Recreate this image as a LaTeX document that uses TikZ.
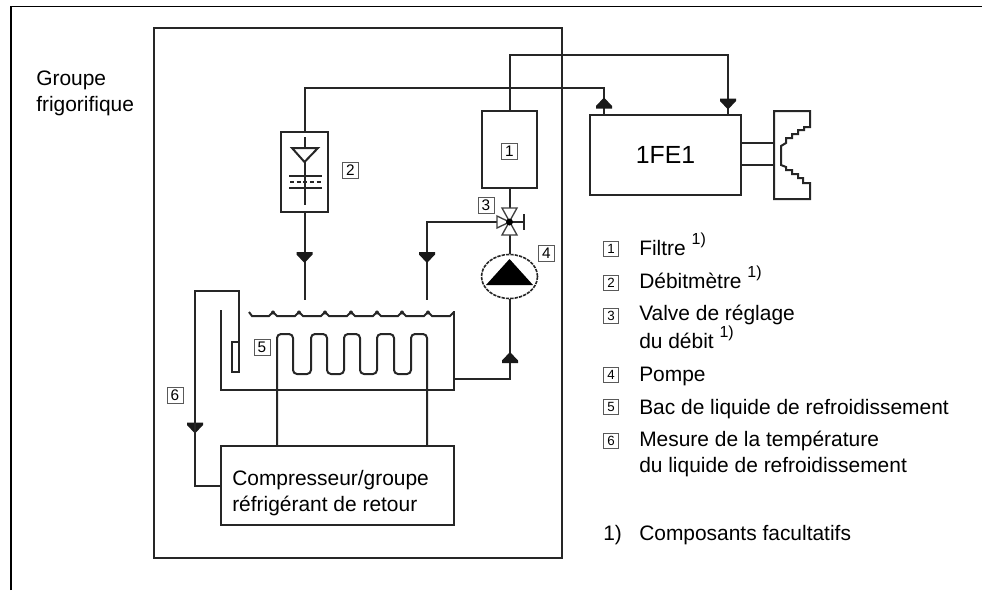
\documentclass[tikz,border=0pt]{standalone}
\usepackage{fontspec}
\setmainfont{Liberation Sans}
\usetikzlibrary{positioning,shapes.geometric}
\tikzset{
    pipe/.style={line width=1.5pt,black!85},
    unitbox/.style 2 args={draw,line width=1.5pt,black!85,inner sep=0pt,outer sep=0pt,minimum width=#1*0.75pt,minimum height=#2*0.75pt},
    tagbox/.style={draw,black!65,line width=0.6pt,inner sep=0pt,minimum width=12pt,minimum height=12pt,text=black,font=\fontsize{11.5}{12}\selectfont},
    keybox/.style={draw,black!65,line width=0.6pt,inner sep=0pt,minimum width=11.5pt,minimum height=11.5pt,text=black,font=\fontsize{10}{10}\selectfont},
    plaintext/.style={anchor=base west,inner sep=0pt,align=left,font=\fontsize{15.7}{19.5}\selectfont},
    pics/tipdown/.style={code={\fill[black!90] (-8,-5.5) -- (8,-5.5) -- (8,-3) -- (0,5.5) -- (-8,-3) -- cycle;}},
    pics/tipup/.style={code={\fill[black!90] (-8,5.5) -- (8,5.5) -- (8,3) -- (0,-5.5) -- (-8,3) -- cycle;}},
}
\newcommand{\optmark}{\raisebox{0.5em}{\fontsize{12}{12}\selectfont 1)}}
\begin{document}
\begin{tikzpicture}[x=0.75pt,y=-0.75pt]
    \useasboundingbox (0,0) rectangle (982,590);
    % page frame
    \coordinate (framea) at (11,590);
    \coordinate (frameb) at (11,6.5);
    \coordinate (framec) at (982,6.5);
    \draw[black,line width=0.8pt] (framea) -- (frameb) -- (framec);
    \node[unitbox={408}{530}] (unit) at (358,293) {};
    \node[plaintext] (unitname) at (36,111) {Groupe\\frigorifique};

    % components
    \node[unitbox={47}{80}] (meter) at (304.5,172) {};
    \node[unitbox={55}{77}] (filter) at (509.5,149.5) {};
    \node[unitbox={151}{80}] (fe) at (665.5,155) {};
    \node[font=\fontsize{18.6}{20}\selectfont,inner sep=0pt] (fename) at (fe) {1FE1};
    \node[unitbox={233}{79}] (comp) at (337.5,485.5) {};
    \node[plaintext] (compname) at (232,511) {Compresseur/groupe\\réfrigérant de retour};
    \coordinate (valve) at (509.5,222);
    \node[draw,ellipse,dash pattern=on 2.5pt off 0.8pt,line width=1.2pt,black!85,inner sep=0pt,minimum width=42pt,minimum height=33pt] (pump) at (509.5,276.5) {};
    \fill[black] (509.5,259) -- (533,285) -- (486,285) -- cycle;

    % pipes
    \coordinate (fesupply) at (604,115);
    \coordinate (fereturn) at (728,115);
    \coordinate (meterend) at (304.5,300);
    \coordinate (valveend) at (427,300);
    \draw[pipe] (meter.north) |- (604,87.5) -- (fesupply);
    \draw[pipe] (filter.north) |- (728,55) -- (fereturn);
    \draw[pipe] (meter.south) -- (meterend);
    \draw[pipe] (filter.south) -- (valve) -- (pump.north);
    \draw[pipe] (valve) -| (valveend);
    \draw[pipe] (pump.south) |- (454,378.5);
    \pic at (304.5,257.5) {tipdown};
    \pic at (427,257.5) {tipdown};
    \pic at (604,103) {tipup};
    \pic at (728,104) {tipdown};
    \pic at (510,357.5) {tipup};
    \pic at (195,428) {tipdown};

    % flowmeter symbol
    \draw[pipe] (304.5,137) -- (304.5,205);
    \draw[pipe,fill=white] (292,148) -- (318,148) -- (304.5,162) -- cycle;
    \draw[pipe] (289,176) -- (322,176);
    \draw[pipe] (289,188) -- (322,188);
    \draw[pipe,dash pattern=on 3pt off 2pt] (290,182) -- (322,182);

    % valve
    \draw[black!75,line width=1pt,fill=white] (502,208) -- (517,208) -- (502,235) -- (517,235) -- cycle;
    \draw[black!75,line width=1pt,fill=white] (497,216) -- (509.5,222) -- (497,228) -- cycle;
    \draw[pipe] (valve) -- (524,222);
    \draw[pipe] (524,214) -- (524,230);
    \fill[black] (valve) circle (3.5);

    % tank, sensor and coil
    \draw[pipe] (221,310) -- (221,390) -- (454,390) -- (454,311);
    \draw[pipe] (249,312) -- (252,316) \foreach \dotx in {273,299,325,351,377,402,428} {
        -- (\dotx-4,316) -- (\dotx,312) -- (\dotx+4,316)} -- (450,316) -- (454,312);
    \foreach \dotx in {273,299,325,351,377,402,428} \fill[black!85] (\dotx,312.5) circle (2);
    \node[unitbox={7}{30}] (sensor) at (235.5,357) {};
    \draw[pipe] (comp.west) -| (195,291) -| (sensor.north -| 239,291);
    \draw[pipe,rounded corners=3pt] (277,446) -- (277,334) -- (293,334) -- (293,374) -- (311,374) -- (311,334) -- (327,334) -- (327,374) -- (344,374) -- (344,334) -- (360,334) -- (360,374) -- (377,374) -- (377,334) -- (394,334) -- (394,374) -- (411,374) -- (411,334) -- (427,334) -- (427,446);

    % exchanger
    \draw[pipe] (741,143) -- (774,143);
    \draw[pipe] (741,165) -- (774,165);
    \draw[pipe] (774,111) -- (810,111) -- (810,127) -- (804,127) -- (804,130) -- (798,130) -- (798,134) -- (792,134) -- (792,138) -- (786,138) -- (786,143) -- (781,146) -- (781,165) -- (786,167) -- (786,170) -- (792,170) -- (792,174) -- (798,174) -- (798,178) -- (803,178) -- (803,183) -- (810,183) -- (810,199) -- (774,199) -- cycle;

    % numbers on the drawing
    \node[tagbox] (taga) at (509.5,151) {1};
    \node[tagbox] (tagb) at (350.5,170) {2};
    \node[tagbox] (tagc) at (486,205) {3};
    \node[tagbox] (tagd) at (546.5,253) {4};
    \node[tagbox] (tage) at (262,347) {5};
    \node[tagbox] (tagf) at (175,395) {6};

    % key
    \node[keybox] (keya) at (611,249) {1};
    \node[keybox] (keyb) at (611,283) {2};
    \node[keybox] (keyc) at (611,316) {3};
    \node[keybox] (keyd) at (611,375) {4};
    \node[keybox] (keye) at (611,407) {5};
    \node[keybox] (keyf) at (611,441) {6};
    \node[plaintext] (texta) at (639,255) {Filtre \optmark};
    \node[plaintext] (textb) at (639,288) {Débitmètre \optmark};
    \node[plaintext] (textc) at (639,348) {Valve de réglage\\du débit \optmark};
    \node[plaintext] (textd) at (639,381) {Pompe};
    \node[plaintext] (texte) at (639,414) {Bac de liquide de refroidissement};
    \node[plaintext] (textf) at (639,472) {Mesure de la température\\du liquide de refroidissement};
    \node[plaintext] (textg) at (603,540) {1)};
    \node[plaintext] (texth) at (639,540) {Composants facultatifs};
\end{tikzpicture}
\end{document}
